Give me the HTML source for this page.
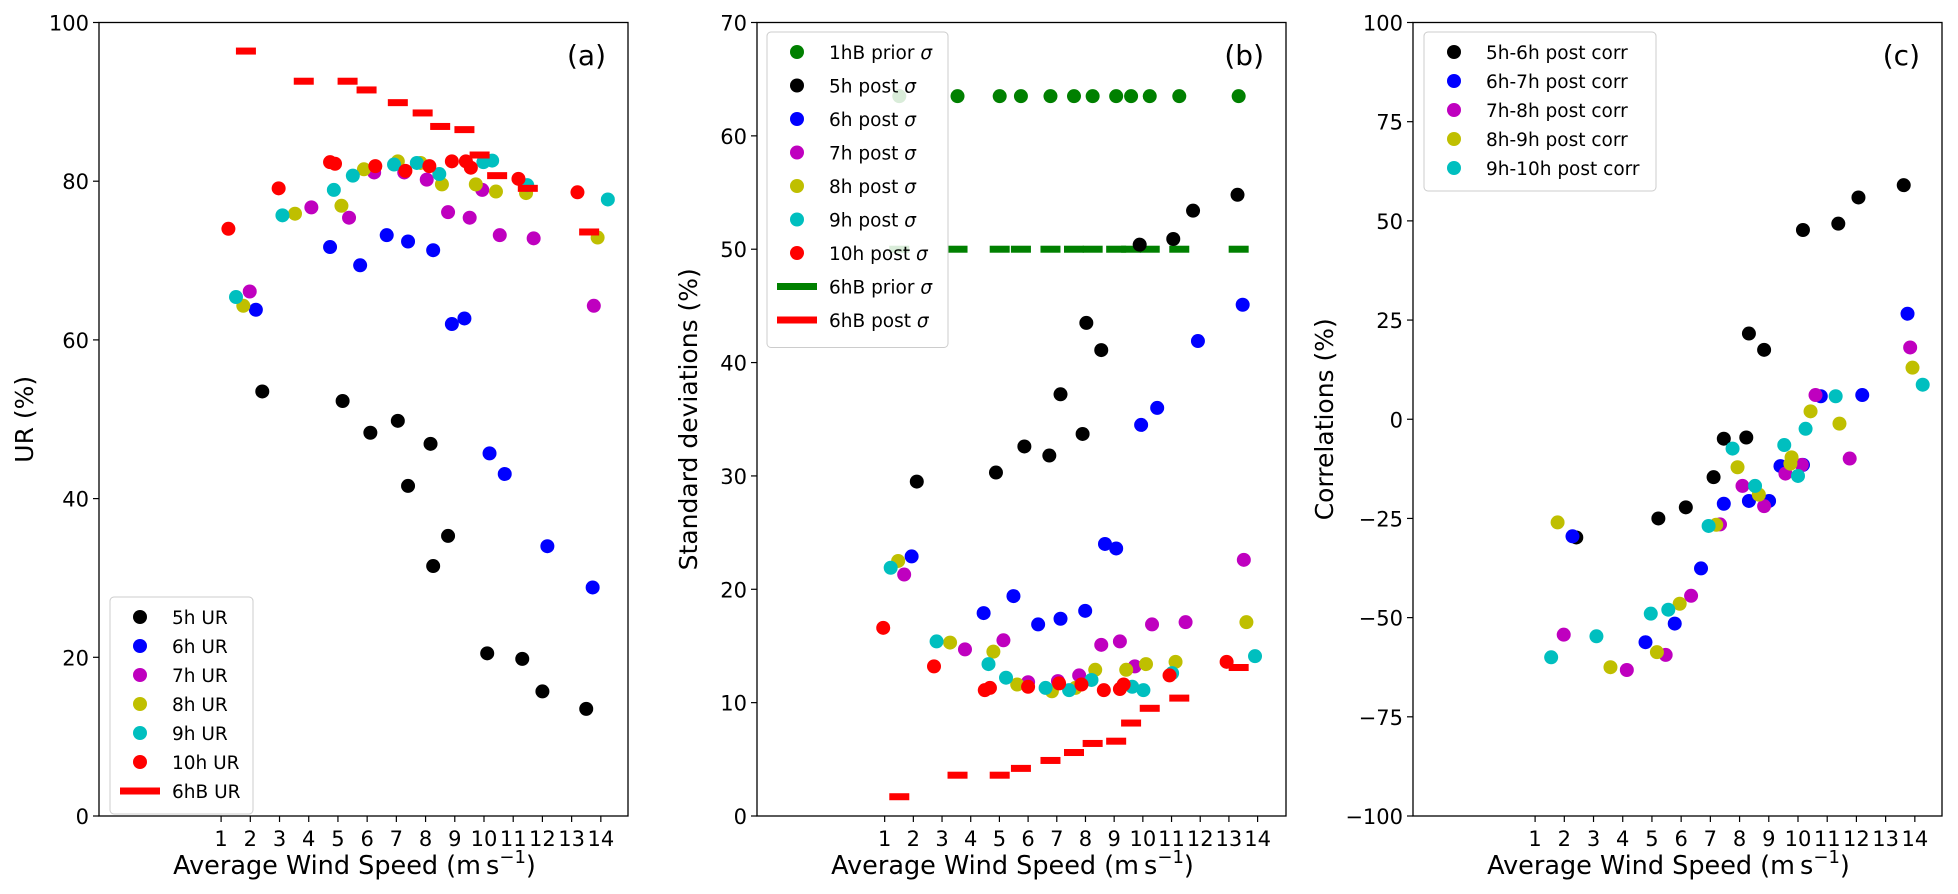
<!DOCTYPE html>
<html><head><meta charset="utf-8"><style>
body{margin:0;background:#fff;}
svg{display:block;font-family:"DejaVu Sans","Liberation Sans",sans-serif;}
</style></head><body>
<svg id="chart" width="1958" height="894" viewBox="0 0 1958 894"></svg>
<script>
// ---------- shared ----------
const xTicks = [1,2,3,4,5,6,7,8,9,10,11,12,13,14];
// ---------- panel (a) data ----------
const a5x=[2.41,5.16,6.11,7.05,7.40,8.17,8.26,8.77,10.11,11.31,12.0,13.5];
const a5y=[53.5,52.3,48.3,49.8,41.6,46.9,31.5,35.3,20.5,19.8,15.7,13.5];
const a6x=[2.19,4.73,5.76,6.67,7.40,8.26,8.90,9.33,10.19,10.71,12.17,13.72];
const a6y=[63.8,71.7,69.4,73.2,72.4,71.3,62.0,62.7,45.7,43.1,34.0,28.8];
const a7x=[1.98,4.09,5.38,6.24,7.27,8.04,8.77,9.51,9.94,10.54,11.70,13.76];
const a7y=[66.1,76.7,75.4,81.1,81.1,80.2,76.1,75.4,78.9,73.2,72.8,64.3];
const a8x=[1.76,3.53,5.12,5.89,7.05,7.83,8.56,9.72,10.41,11.44,13.89];
const a8y=[64.3,75.9,76.9,81.5,82.5,82.3,79.6,79.6,78.7,78.5,72.9];
const a9x=[1.51,3.10,4.86,5.51,6.92,7.70,8.47,9.98,10.28,11.48,14.24];
const a9y=[65.4,75.7,78.9,80.7,82.1,82.3,80.9,82.4,82.6,79.5,77.7];
const a10x=[1.25,2.97,4.73,4.90,6.28,7.31,8.13,8.90,9.38,9.55,11.18,13.2];
const a10y=[74,79.1,82.4,82.2,81.9,81.3,81.9,82.5,82.5,81.7,80.3,78.6];
const aBx=[1.85,3.83,5.33,5.98,7.05,7.9,8.5,9.33,9.85,10.45,11.5,13.6];
const aBy=[96.4,92.6,92.6,91.5,89.9,88.6,86.9,86.5,83.3,80.7,79.1,73.6];
// ---------- panel (b) data ----------
const bGx=[1.51,3.54,5.01,5.75,6.78,7.60,8.25,9.07,9.59,10.24,11.27,13.34];
const bGy=[63.5,63.5,63.5,63.5,63.5,63.5,63.5,63.5,63.5,63.5,63.5,63.5];
const bPriorY=[50,50,50,50,50,50,50,50,50,50,50,50];
const bPostY=[1.7,3.6,3.6,4.2,4.9,5.6,6.4,6.6,8.2,9.5,10.4,13.1];
const b5x=[2.12,4.88,5.87,6.74,7.13,7.90,8.03,8.55,9.89,11.06,11.75,13.30];
const b5y=[29.5,30.3,32.6,31.8,37.2,33.7,43.5,41.1,50.4,50.9,53.4,54.8];
const b6x=[1.94,4.45,5.49,6.35,7.13,7.99,8.68,9.07,9.94,10.50,11.92,13.48];
const b6y=[22.9,17.9,19.4,16.9,17.4,18.1,24.0,23.6,34.5,36.0,41.9,45.1];
const b7x=[1.68,3.80,5.14,6.00,7.04,7.78,8.55,9.20,9.72,10.32,11.49,13.52];
const b7y=[21.3,14.7,15.5,11.8,11.9,12.4,15.1,15.4,13.2,16.9,17.1,22.6];
const b8x=[1.47,3.28,4.79,5.62,6.83,7.65,8.34,9.42,10.11,11.14,13.61];
const b8y=[22.5,15.3,14.5,11.6,11.0,11.3,12.9,12.9,13.4,13.6,17.1];
const b9x=[1.21,2.81,4.62,5.23,6.61,7.43,8.21,9.63,10.02,11.02,13.91];
const b9y=[21.9,15.4,13.4,12.2,11.3,11.1,12.0,11.4,11.1,12.6,14.1];
const b10x=[0.95,2.72,4.49,4.67,6.00,7.08,7.86,8.64,9.20,9.33,10.93,12.92];
const b10y=[16.6,13.2,11.1,11.3,11.4,11.7,11.6,11.1,11.2,11.6,12.4,13.6];
// ---------- panel (c) data ----------
const c5x=[2.41,5.22,6.16,7.11,7.46,8.23,8.32,8.84,10.17,11.38,12.07,13.62];
const c5y=[-29.8,-25,-22.2,-14.6,-4.9,-4.6,21.6,17.5,47.7,49.3,55.9,59];
const c6x=[2.28,4.78,5.78,6.68,7.46,8.32,9.01,9.40,10.17,10.78,12.2,13.75];
const c6y=[-29.5,-56.2,-51.5,-37.6,-21.3,-20.6,-20.6,-11.8,-11.5,5.8,6.1,26.6];
const c7x=[1.98,4.14,5.47,6.34,7.33,8.10,8.84,9.57,10.13,10.60,11.77,13.84];
const c7y=[-54.3,-63.2,-59.4,-44.5,-26.5,-16.8,-21.9,-13.7,-11.5,6.1,-9.9,18.1];
const c8x=[1.77,3.58,5.17,5.95,7.20,7.93,8.66,9.74,9.78,10.43,11.42,13.92];
const c8y=[-26,-62.5,-58.7,-46.5,-26.6,-12.1,-19,-11.2,-9.6,2,-1.1,13];
const c9x=[1.55,3.10,4.96,5.56,6.94,7.76,8.53,9.53,10.0,10.26,11.29,14.27];
const c9y=[-60,-54.7,-49,-48,-26.9,-7.4,-16.8,-6.5,-14.3,-2.4,5.8,8.7];

const NS="http://www.w3.org/2000/svg";
const svg=document.getElementById('chart');
const T=22.5,B=816,W=529;
function mk(tag,attrs,parent){const e=document.createElementNS(NS,tag);for(const k in attrs)e.setAttribute(k,attrs[k]);(parent||svg).appendChild(e);return e;}
function fmt(v){return v<0?'\u2212'+(-v):''+v;}

function panel(L,xlim,ymin,ymax,ystep,ylabel,tag,series,legend,legBox){
  const XMIN=xlim[0],XMAX=xlim[1];
  const g=mk('g',{});
  
  
  const sx=x=>L+(x-XMIN)/(XMAX-XMIN)*W;
  const sy=y=>B-(y-ymin)/(ymax-ymin)*(B-T);
  series.forEach(s=>{
    const sg=mk('g',{},g);
    
    
    s.x.forEach((xv,i)=>{
      if(s.dash){
        const r=mk('rect',{x:sx(xv)-10,y:sy(s.y[i])-3.5,width:20,height:7,fill:s.c},sg);
        
        
      }else{
        const c=mk('circle',{cx:sx(xv),cy:sy(s.y[i]),r:7,fill:s.c},sg);
        
        
      }
    });
  });
  const fr=mk('rect',{x:L,y:T,width:W,height:B-T,fill:'none',stroke:'#000','stroke-width':1.3},g);
  
  
  xTicks.forEach(t=>{
    const x=sx(t);
    mk('line',{x1:x,y1:B,x2:x,y2:B+6,stroke:'#000','stroke-width':1.2},g);
    const tx=mk('text',{x:x,y:B+30,'font-size':21,'text-anchor':'middle'},g);
    tx.textContent=t;
    
    
  });
  for(let v=ymin;v<=ymax+1e-9;v+=ystep){
    const y=sy(v);
    mk('line',{x1:L-6,y1:y,x2:L,y2:y,stroke:'#000','stroke-width':1.2},g);
    const ty=mk('text',{x:L-10,y:y+8,'font-size':21,'text-anchor':'end'},g);
    ty.textContent=fmt(v);
    
    
  }
  const xl=mk('text',{x:L+W/2-9,y:874,'font-size':25.5,'text-anchor':'middle'},g);
  xl.innerHTML='Average Wind Speed (m\u2009s<tspan dy="-11" font-size="18">\u22121</tspan><tspan dy="11">)</tspan>';
  
  
  const yl=mk('text',{x:0,y:0,'font-size':25,'text-anchor':'middle',transform:`translate(${L-ylabel.off},${(T+B)/2}) rotate(-90)`},g);
  yl.textContent=ylabel.t;
  
  
  const pl=mk('text',{x:L+W-22,y:65,'font-size':28,'text-anchor':'end'},g);
  pl.textContent='('+tag+')';
  
  
  const lg=mk('g',{},g);
  
  
  mk('rect',{x:legBox.x,y:legBox.y,width:legBox.w,height:legend.length*legBox.dy+14,rx:4,fill:'#fff','fill-opacity':0.85,stroke:'#ccc','stroke-width':1},lg);
  legend.forEach((e,i)=>{
    const cy=legBox.y+20+i*legBox.dy;
    const eg=mk('g',{},lg);
    
    
    if(e.dash) mk('rect',{x:legBox.x+10,y:cy-3.5,width:40,height:7,fill:e.c},eg);
    else mk('circle',{cx:legBox.x+30,cy:cy,r:7,fill:e.c},eg);
    const t=mk('text',{x:legBox.x+62,y:cy+7,'font-size':18.5},eg);
    t.innerHTML=e.t;
  });
}

panel(99,[-3.18,14.93],0,100,20,{t:'UR (%)',off:66},'a',[
  {name:'5h-ur',x:a5x,y:a5y,c:'#000'},{name:'6h-ur',x:a6x,y:a6y,c:'#0000ff'},
  {name:'7h-ur',x:a7x,y:a7y,c:'#bf00bf'},{name:'8h-ur',x:a8x,y:a8y,c:'#bfbf00'},
  {name:'9h-ur',x:a9x,y:a9y,c:'#00bfbf'},{name:'10h-ur',x:a10x,y:a10y,c:'#ff0000'},
  {name:'6hb-ur',x:aBx,y:aBy,c:'#ff0000',dash:true}
],[{t:'5h UR',c:'#000'},{t:'6h UR',c:'#0000ff'},{t:'7h UR',c:'#bf00bf'},{t:'8h UR',c:'#bfbf00'},{t:'9h UR',c:'#00bfbf'},{t:'10h UR',c:'#ff0000'},{t:'6hB UR',c:'#ff0000',dash:true}],
{x:110,y:597,w:143,dy:29});

panel(757,[-3.45,14.99],0,70,10,{t:'Standard deviations (%)',off:60},'b',[
  {name:'6hb-prior',x:bGx,y:bPriorY,c:'#008000',dash:true},
  {name:'6hb-post',x:bGx,y:bPostY,c:'#ff0000',dash:true},
  {name:'1hb-prior',x:bGx,y:bGy,c:'#008000'},
  {name:'5h-post',x:b5x,y:b5y,c:'#000'},{name:'6h-post',x:b6x,y:b6y,c:'#0000ff'},
  {name:'7h-post',x:b7x,y:b7y,c:'#bf00bf'},{name:'8h-post',x:b8x,y:b8y,c:'#bfbf00'},
  {name:'9h-post',x:b9x,y:b9y,c:'#00bfbf'},{name:'10h-post',x:b10x,y:b10y,c:'#ff0000'}
],[{t:'1hB prior <tspan font-style="italic">σ</tspan>',c:'#008000'},{t:'5h post <tspan font-style="italic">σ</tspan>',c:'#000'},{t:'6h post <tspan font-style="italic">σ</tspan>',c:'#0000ff'},{t:'7h post <tspan font-style="italic">σ</tspan>',c:'#bf00bf'},{t:'8h post <tspan font-style="italic">σ</tspan>',c:'#bfbf00'},{t:'9h post <tspan font-style="italic">σ</tspan>',c:'#00bfbf'},{t:'10h post <tspan font-style="italic">σ</tspan>',c:'#ff0000'},{t:'6hB prior <tspan font-style="italic">σ</tspan>',c:'#008000',dash:true},{t:'6hB post <tspan font-style="italic">σ</tspan>',c:'#ff0000',dash:true}],
{x:767,y:32,w:181,dy:33.5});

panel(1413,[-3.18,14.93],-100,100,25,{t:'Correlations (%)',off:80},'c',[
  {name:'5h-6h-corr',x:c5x,y:c5y,c:'#000'},{name:'6h-7h-corr',x:c6x,y:c6y,c:'#0000ff'},
  {name:'7h-8h-corr',x:c7x,y:c7y,c:'#bf00bf'},{name:'8h-9h-corr',x:c8x,y:c8y,c:'#bfbf00'},
  {name:'9h-10h-corr',x:c9x,y:c9y,c:'#00bfbf'}
],[{t:'5h-6h post corr',c:'#000'},{t:'6h-7h post corr',c:'#0000ff'},{t:'7h-8h post corr',c:'#bf00bf'},{t:'8h-9h post corr',c:'#bfbf00'},{t:'9h-10h post corr',c:'#00bfbf'}],
{x:1424,y:32,w:232,dy:29});
</script>
</body></html>
